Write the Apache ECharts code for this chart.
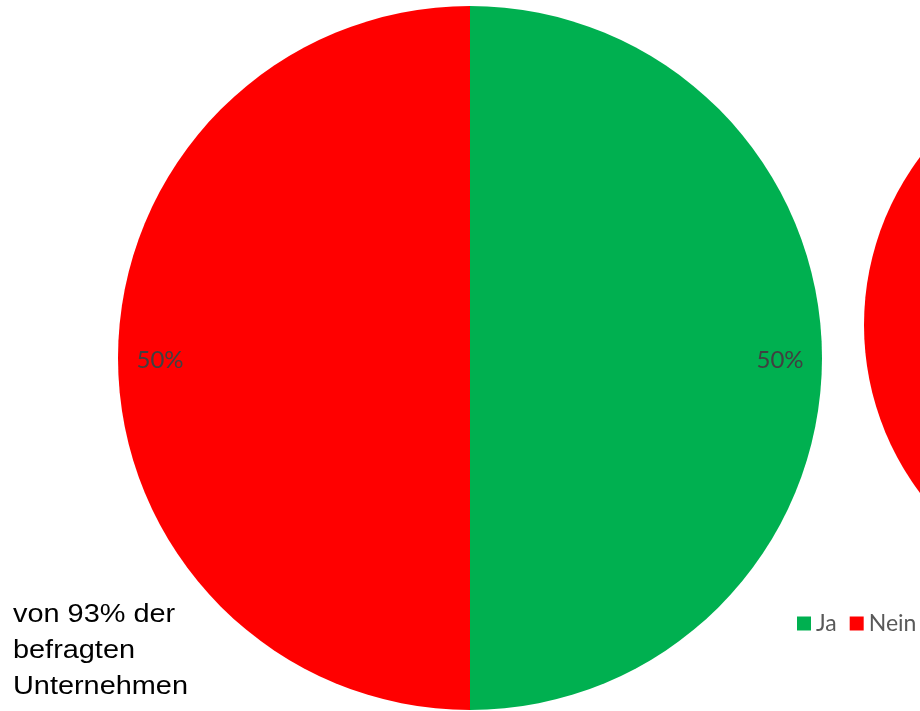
<!DOCTYPE html>
<html>
<head>
<meta charset="utf-8">
<script src="https://cdn.jsdelivr.net/npm/echarts@6/dist/echarts.min.js"></script>
<style>html,body{margin:0;padding:0;background:#fff}#c{width:920px;height:711px}</style>
</head>
<body>
<div id="c"></div>
<script>
var categories = ['Ja', 'Nein'];
var mainValues = [50, 50];
var rightValues = [0, 100];
var noteLines = ['von 93% der', 'befragten', 'Unternehmen'];
var colors = ['#00B050', '#FF0000'];

function toData(vals) {
  return categories.map(function (c, i) { return { name: c, value: vals[i] }; });
}

var chart = echarts.init(document.getElementById('c'), null, { renderer: 'canvas' });
chart.setOption({
  animation: false,
  color: colors,
  legend: {
    data: categories,
    orient: 'horizontal',
    left: 792,
    top: 607,
    width: 400,
    padding: 5,
    icon: 'rect',
    itemWidth: 14,
    itemHeight: 14,
    itemGap: 13,
    textStyle: { fontFamily: 'Lato', fontSize: 23, color: '#595959', padding: [0, 0, 0, 0] }
  },
  graphic: [{
    type: 'text',
    x: 13,
    y: 597,
    scaleX: 1.155,
    style: {
      text: noteLines.join('\n'),
      font: '25px "Liberation Sans"',
      lineHeight: 36,
      fill: '#000'
    }
  }],
  series: [
    {
      type: 'pie',
      center: [470, 358],
      radius: [0, 352],
      startAngle: 90,
      clockwise: true,
      data: toData(mainValues),
      label: { show: false },
      labelLine: { show: false },
      emphasis: { disabled: true }
    },
    {
      type: 'pie',
      center: [470, 360],
      radius: [262, 352],
      startAngle: 90,
      clockwise: true,
      silent: true,
      data: toData(mainValues),
      itemStyle: { color: 'rgba(0,0,0,0)' },
      label: {
        show: true,
        position: 'inside',
        formatter: function (p) { return Math.round(p.percent) + '%'; },
        fontFamily: 'Lato',
        fontSize: 24,
        color: '#404040'
      },
      labelLine: { show: false },
      emphasis: { disabled: true }
    },
    {
      type: 'pie',
      center: [1144, 325],
      radius: [0, 280],
      startAngle: 90,
      clockwise: true,
      data: toData(rightValues),
      label: { show: false },
      labelLine: { show: false },
      emphasis: { disabled: true }
    }
  ]
});
</script>
</body>
</html>
